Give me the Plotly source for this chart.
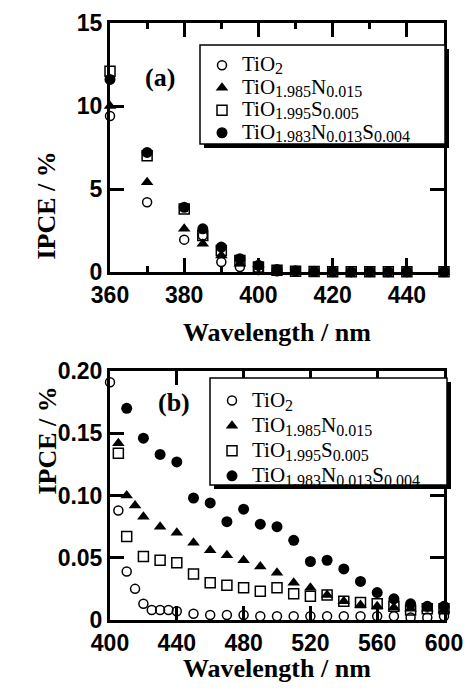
import plotly.graph_objects as go

W, H = 468, 696

# ---------- data: panel (a) ----------
wl_a = [360, 370, 380, 385, 390, 395, 400, 405, 410, 415, 420, 425, 430, 435, 440, 450]
tio2_a = [9.4, 4.2, 1.95, 2.2, 0.6, 0.3, 0.12, 0.05, 0.03, 0.02, 0.0, 0.0, 0.0, 0.0, 0.0, 0.0]
n_a = [10.0, 5.4, 2.6, 1.7, 1.0, 0.5, 0.45, 0.1, 0.05, 0.03, 0.02, 0.02, 0.02, 0.02, 0.02, 0.02]
s_a = [12.1, 7.0, 3.8, 2.2, 1.3, 0.7, 0.3, 0.1, 0.05, 0.03, 0.02, 0.02, 0.02, 0.02, 0.02, 0.02]
ns_a = [11.6, 7.2, 3.9, 2.6, 1.5, 0.8, 0.4, 0.15, 0.08, 0.04, 0.03, 0.02, 0.03, 0.02, 0.03, 0.03]

# ---------- data: panel (b) ----------
wl_b = [400, 405, 410, 415, 420, 425, 430, 435, 440, 450, 460, 470, 480, 490, 500,
        510, 520, 530, 540, 550, 560, 570, 580, 590, 600]
tio2_b = [0.191, 0.088, 0.039, 0.025, 0.013, 0.008, 0.008, 0.008, 0.007, 0.005, 0.004,
          0.004, 0.004, 0.003, 0.003, 0.003, 0.003, 0.003, 0.003, 0.003, 0.003, 0.003,
          0.002, 0.002, 0.003]
wl_bn = [405, 410, 415, 420, 430, 440, 450, 460, 470, 480, 490, 500, 510, 520, 530,
         540, 550, 560, 570, 580, 590, 600]
n_b = [0.142, 0.100, 0.092, 0.083, 0.075, 0.070, 0.062, 0.056, 0.052, 0.048, 0.043,
       0.038, 0.030, 0.026, 0.020, 0.015, 0.012, 0.011, 0.010, 0.009, 0.009, 0.008]
wl_bs = [405, 410, 420, 430, 440, 450, 460, 470, 480, 490, 500, 510, 520, 530, 540,
         550, 560, 570, 580, 590, 600]
s_b = [0.134, 0.067, 0.051, 0.048, 0.046, 0.037, 0.030, 0.028, 0.026, 0.023, 0.026,
       0.021, 0.019, 0.020, 0.015, 0.014, 0.013, 0.011, 0.008, 0.009, 0.009]
wl_bns = [410, 420, 430, 440, 450, 460, 470, 480, 490, 500, 510, 520, 530, 540, 550,
          560, 570, 580, 590, 600]
ns_b = [0.170, 0.146, 0.133, 0.127, 0.098, 0.094, 0.079, 0.089, 0.077, 0.075, 0.064,
        0.047, 0.048, 0.041, 0.031, 0.022, 0.017, 0.013, 0.011, 0.011]

# legend labels: (formula parts, subscripts)
label_parts = [
    [("TiO", "2")],
    [("TiO", "1.985"), ("N", "0.015")],
    [("TiO", "1.995"), ("S", "0.005")],
    [("TiO", "1.983"), ("N", "0.013"), ("S", "0.004")],
]

yt_a = [0, 5, 10, 15]
yt_a_txt = ["0", "5", "10", "15"]
yt_b = [0, 0.05, 0.10, 0.15, 0.20]
yt_b_txt = ["0", "0.05", "0.10", "0.15", "0.20"]
xt_a = [360, 380, 400, 420, 440]
xt_b = [400, 440, 480, 520, 560, 600]

SERIF = "Liberation Serif"


def px(x):
    return x / W


def py(y):
    return 1 - y / H


def label(parts, main=21, sub=16):
    s = ""
    st = f"font-family:'{SERIF}',serif;"
    for base, sb in parts:
        s += f'<span style="{st}font-size:{main}px">{base}</span>'
        s += f'<sub><span style="{st}font-size:{sub}px">{sb}</span></sub>'
    return s


styles = [
    dict(symbol="circle-open", size=9, color="black", line=dict(width=1.5, color="black")),
    dict(symbol="triangle-up", size=11, color="black"),
    dict(symbol="square-open", size=10, color="black", line=dict(width=1.5, color="black")),
    dict(symbol="circle", size=11, color="black"),
]

fig = go.Figure()

series_a = [(wl_a, tio2_a), (wl_a, n_a), (wl_a, s_a), (wl_a, ns_a)]
for i in range(4):
    xs, ys = series_a[i]
    fig.add_trace(go.Scatter(x=xs, y=ys, mode="markers", name=label(label_parts[i]),
                             marker=styles[i], xaxis="x", yaxis="y",
                             cliponaxis=False, legend="legend"))

series_b = [(wl_b, tio2_b), (wl_bn, n_b), (wl_bs, s_b), (wl_bns, ns_b)]
for i in range(4):
    xs, ys = series_b[i]
    fig.add_trace(go.Scatter(x=xs, y=ys, mode="markers", name=label(label_parts[i]),
                             marker=styles[i], xaxis="x2", yaxis="y2",
                             cliponaxis=False, legend="legend2"))

tickfont = dict(family="Liberation Sans", size=23, color="black", weight="bold")
axis_common = dict(showline=True, linecolor="black", linewidth=3, mirror="ticks",
                   ticks="inside", ticklen=14, tickwidth=3, tickcolor="black",
                   showgrid=False, zeroline=False, tickfont=tickfont, automargin=False)

xdom = [px(110), px(444)]
fig.update_layout(
    template="none",
    font=dict(family=SERIF, color="black"),
    width=W, height=H,
    margin=dict(l=0, r=0, t=0, b=0, pad=0, autoexpand=False),
    paper_bgcolor="white", plot_bgcolor="white",
    showlegend=True,
    xaxis=dict(domain=xdom, anchor="y", range=[360, 450], tickvals=xt_a,
               minor=dict(dtick=10, tick0=360, ticks="inside", ticklen=6, tickwidth=3,
                          tickcolor="black"),
               **axis_common),
    yaxis=dict(domain=[py(272), py(23)], anchor="x", range=[0, 15], tickvals=yt_a,
               ticktext=yt_a_txt, **axis_common),
    xaxis2=dict(domain=xdom, anchor="y2", range=[400, 600], tickvals=xt_b, **axis_common),
    yaxis2=dict(domain=[py(620), py(371)], anchor="x2", range=[0, 0.20], tickvals=yt_b,
                ticktext=yt_b_txt, **axis_common),
    legend=dict(x=px(202), y=py(49), xanchor="left", yanchor="top",
                bgcolor="rgba(0,0,0,0)", borderwidth=0,
                font=dict(family=SERIF, size=15, color="black"),
                tracegroupgap=0, itemwidth=30),
    legend2=dict(x=px(212), y=py(383), xanchor="left", yanchor="top",
                 bgcolor="rgba(0,0,0,0)", borderwidth=0,
                 font=dict(family=SERIF, size=17, color="black"),
                 tracegroupgap=0, itemwidth=30),
)

# legend boxes with drop shadow
shapes = []
for (x0, y0, x1, y1) in [(200, 45, 445, 144), (210, 378, 447, 485)]:
    shapes.append(dict(type="rect", xref="paper", yref="paper",
                       x0=px(x0 + 4), x1=px(x1 + 4), y0=py(y1 + 4), y1=py(y0 + 4),
                       fillcolor="black", line=dict(width=0), layer="above"))
    shapes.append(dict(type="rect", xref="paper", yref="paper",
                       x0=px(x0), x1=px(x1), y0=py(y1), y1=py(y0),
                       fillcolor="white", line=dict(width=1.5, color="black"), layer="above"))
fig.update_layout(shapes=shapes)

title_font = dict(family=SERIF, size=26, color="black", weight="bold")
lab_font = dict(family=SERIF, size=26, color="black", weight="bold")
ann = [
    dict(text="(a)", x=px(143), y=py(61), xref="paper", yref="paper", showarrow=False,
         font=lab_font),
    dict(text="(b)", x=px(174), y=py(402), xref="paper", yref="paper", showarrow=False,
         font=lab_font),
    dict(text="Wavelength / nm", x=px(277), y=py(332), xref="paper", yref="paper",
         showarrow=False, font=title_font),
    dict(text="Wavelength / nm", x=px(277), y=py(685), xref="paper", yref="paper",
         showarrow=False, font=title_font),
    dict(text="IPCE / %", x=px(30), y=py(150), xref="paper", yref="paper",
         showarrow=False, textangle=-90, font=title_font),
    dict(text="IPCE / %", x=px(30), y=py(497), xref="paper", yref="paper",
         showarrow=False, textangle=-90, font=title_font),
]
fig.update_layout(annotations=ann)

fig.write_html("out.html")
